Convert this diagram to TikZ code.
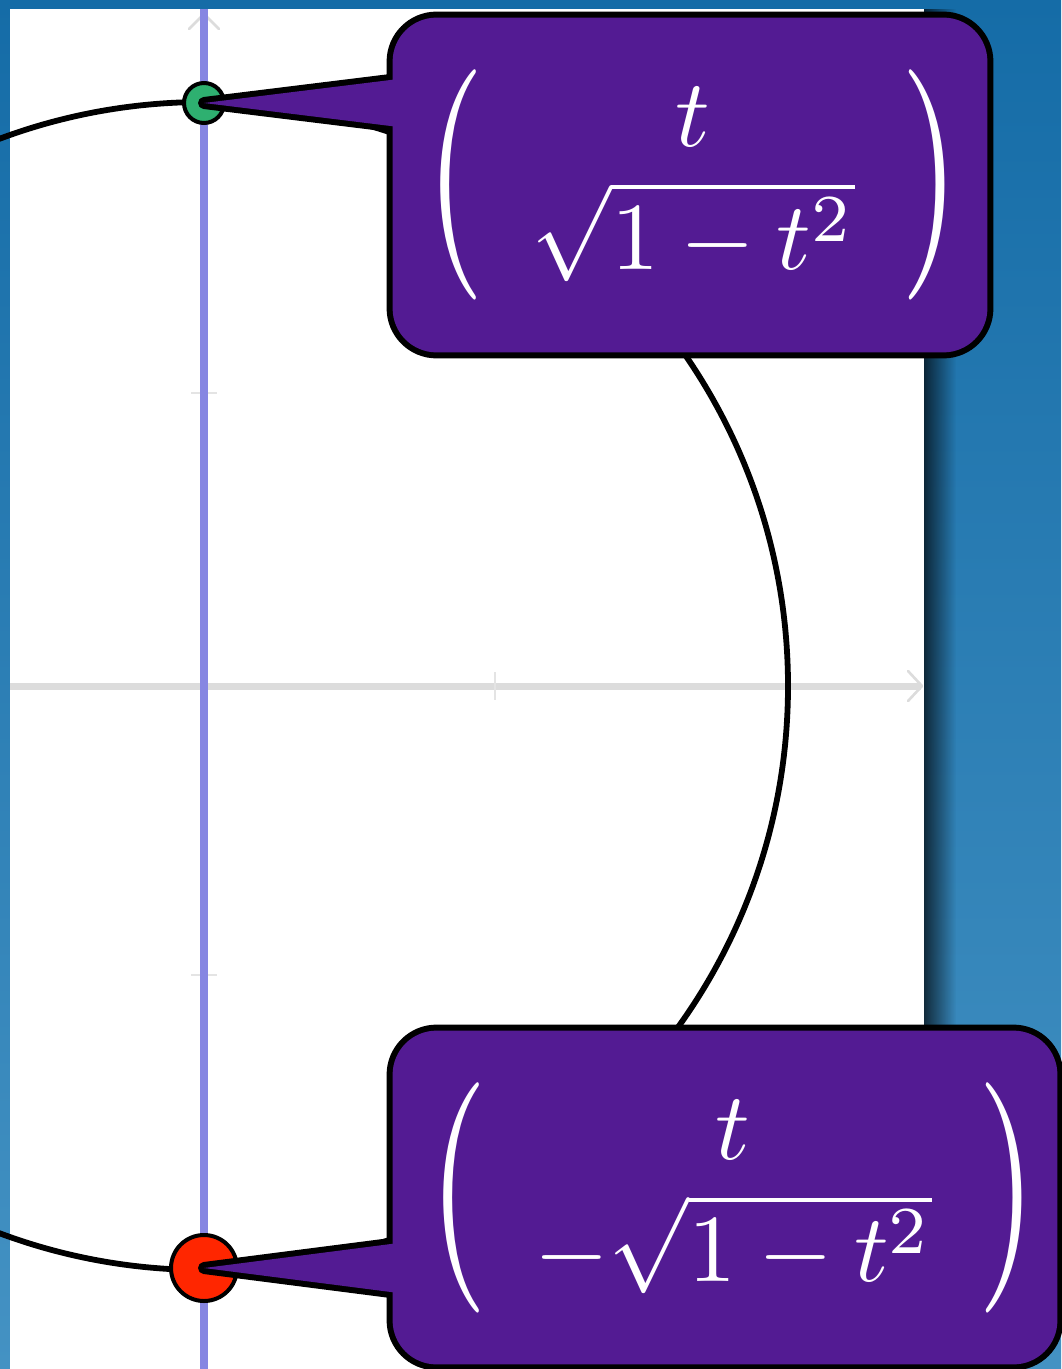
\documentclass[tikz,border=0pt]{standalone}
\usepackage{amsmath}
\usepackage{graphicx}
\usetikzlibrary{calc,fadings}
\definecolor{bgtop}{HTML}{156CA7}
\definecolor{bgbot}{HTML}{4492C3}
\definecolor{callpurple}{HTML}{531B93}
\definecolor{ptgreen}{HTML}{2EB070}
\definecolor{ptred}{HTML}{FF2600}
\definecolor{tline}{HTML}{8686E2}
\definecolor{axisgray}{HTML}{DCDCDC}
\definecolor{tickgray}{HTML}{E4E4E4}
\newcommand{\tallparen}[1]{\vcenter{\hbox{\scalebox{1.6}[2.4]{#1}}}}
\tikzfading[name=shadowfade, left color=transparent!20, right color=transparent!100]
\begin{document}
\begin{tikzpicture}[x=0.5pt,y=-0.5pt,
  axisline/.style={axisgray, line width=3.5pt},
  axisarrow/.style={axisgray, line width=1.3pt, line cap=round, line join=round},
  tickmark/.style={tickgray, line width=1pt},
  curve/.style={black, line width=2.9pt},
  tlinestyle/.style={tline, line width=4pt},
  ptnode/.style={circle, draw=black, line width=2pt, inner sep=0pt},
  boxshape/.style={inner sep=0pt, minimum width=#1},
  outline/.style={black, line width=6pt, line join=round},
  mathtext/.style={text=white, inner sep=0pt, scale=4.8, transform shape}
]
\useasboundingbox (0,0) rectangle (1061,1369);
% background
\shade[top color=bgtop, bottom color=bgbot] (0,0) rectangle (1061,1369);
% panel shadow and panel
\fill[black, path fading=shadowfade, fill opacity=0.85] (924,9) rectangle (956,1369);
\fill[white] (10,9) rectangle (924,1369);
% axes
\draw[axisline] (10,686) -- (921,686);
\draw[axisline] (204,1369) -- (204,15);
\draw[axisarrow] (908,671) -- (922,686) -- (908,701);
\draw[axisarrow] (189,29) -- (204,14) -- (219,29);
\draw[tickmark] (191,393) -- (217,393);
\draw[tickmark] (191,975) -- (217,975);
\draw[tickmark] (495,672) -- (495,700);
% circle
\coordinate (O) at (204,686);
\draw[curve] (O) circle[radius=584];
% vertical line x = t
\draw[tlinestyle] (204,9) -- (204,1369);
% points
\node[ptnode, fill=ptgreen, minimum size=20pt] (g) at (204,103) {};
\node[ptnode, fill=ptred, minimum size=33pt] (r) at (204,1268) {};
% callout boxes (geometry)
\path node[boxshape=297pt, minimum height=167pt] (b1) at (690,185) {};
\path node[boxshape=332pt, minimum height=166.5pt] (b2) at (725,1197.5) {};
% outlines
\draw[outline, rounded corners=22pt] (b1.north west) rectangle (b1.south east);
\draw[outline] ($(b1.west |- g)+(6,-24)$) -- (g.center) -- ($(b1.west |- g)+(6,24)$) -- cycle;
\draw[outline, rounded corners=22pt] (b2.north west) rectangle (b2.south east);
\draw[outline] ($(b2.west |- r)+(6,-25)$) -- (r.center) -- ($(b2.west |- r)+(6,25)$) -- cycle;
% fills
\fill[callpurple, rounded corners=22pt] (b1.north west) rectangle (b1.south east);
\fill[callpurple] ($(b1.west |- g)+(6,-24)$) -- (g.center) -- ($(b1.west |- g)+(6,24)$) -- cycle;
\fill[callpurple, rounded corners=22pt] (b2.north west) rectangle (b2.south east);
\fill[callpurple] ($(b2.west |- r)+(6,-25)$) -- (r.center) -- ($(b2.west |- r)+(6,25)$) -- cycle;
% texts
\node[mathtext] (t1) at ($(b1.center)+(3,0)$) {$\tallparen{(}\hspace{0.48em}\begin{matrix} t\\ \sqrt{1-t^2}\end{matrix}\hspace{0.48em}\tallparen{)}$};
\node[mathtext] (t2) at ($(b2.center)+(8,0)$) {$\tallparen{(}\hspace{0.48em}\begin{matrix} t\\ -\sqrt{1-t^2}\end{matrix}\hspace{0.48em}\tallparen{)}$};
\end{tikzpicture}
\end{document}
